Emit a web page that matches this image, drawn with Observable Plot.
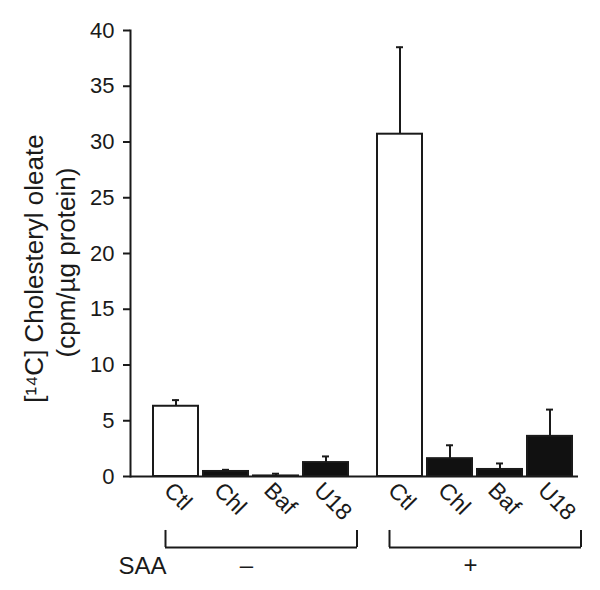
<!DOCTYPE html>
<html>
<head>
<meta charset="utf-8">
<script src="https://cdn.jsdelivr.net/npm/d3@7"></script>
<script src="https://cdn.jsdelivr.net/npm/@observablehq/plot@0.6"></script>
<style>
  body { margin: 0; background: #fff; }
  #chart svg { display: block; }
</style>
</head>
<body>
<div id="chart"></div>
<script>
// ---- data ----
const treatments = ["Ctl", "Chl", "Baf", "U18", "Ctl", "Chl", "Baf", "U18"];
const saaGroups  = ["–", "–", "–", "–", "+", "+", "+", "+"];
const means      = [6.3, 0.45, 0.05, 1.25, 30.7, 1.6, 0.63, 3.6];
const sems       = [0.55, 0.15, 0.2, 0.55, 7.8, 1.2, 0.54, 2.4];
const treatmentOrder = ["Ctl", "Chl", "Baf", "U18"];
const groupOrder = ["–", "+"];
const yTicks = [0, 5, 10, 15, 20, 25, 30, 35, 40];
const yLabelLine1 = "[¹⁴C] Cholesteryl oleate";
const yLabelLine2 = "(cpm/µg protein)";
const groupTitle = "SAA";

const data = treatments.map((t, i) => ({
  treatment: t,
  saa: saaGroups[i],
  mean: means[i],
  upper: means[i] + sems[i],
  fill: t === "Ctl" ? "#ffffff" : "#111111"
}));
const groups = groupOrder.map(g => ({saa: g}));
const firstGroup = [{saa: groupOrder[0]}];

const ink = "#1a1a1a";
const font = "'Liberation Sans', Arial, sans-serif";

const chart = Plot.plot({
  width: 600,
  height: 590,
  marginTop: 30,
  marginBottom: 114,
  marginLeft: 130,
  marginRight: 22,
  style: {fontFamily: font, fontSize: "22px", color: ink, background: "#fff", overflow: "visible"},
  fx: {domain: groupOrder, padding: 0, axis: null},
  x: {domain: treatmentOrder, paddingInner: 0.1, paddingOuter: 0.29, align: 0.8, axis: null},
  y: {domain: [0, 40], axis: null},
  color: {type: "identity"},
  marks: [
    Plot.axisY({ticks: yTicks, tickSize: 7, tickPadding: 9, fontSize: 22, label: null, stroke: ink, strokeWidth: 2, fill: ink}),
    Plot.frame({anchor: "left", facetAnchor: "left", stroke: ink, strokeWidth: 2}),
    Plot.barY(data, {x: "treatment", fx: "saa", y: "mean", fill: "fill", stroke: ink, strokeWidth: 2}),
    Plot.ruleX(data, {x: "treatment", fx: "saa", y1: "mean", y2: "upper", stroke: ink, strokeWidth: 2}),
    Plot.tickY(data, {x: "treatment", fx: "saa", y: "upper", insetLeft: 19, insetRight: 19, stroke: ink, strokeWidth: 2}),
    Plot.ruleY(groups, {fx: "saa", y: () => 0, stroke: ink, strokeWidth: 2}),
    Plot.axisX({tickRotate: 45, tickSize: 0, tickPadding: 10, dx: -8, fontSize: 23, label: null, fill: ink}),
    // group brackets
    Plot.ruleY(groups, {fx: "saa", x1: () => "Ctl", x2: () => "U18", y: () => -6.37, insetLeft: 12, insetRight: -9, stroke: ink, strokeWidth: 2}),
    Plot.ruleX(groups, {fx: "saa", x: () => "Ctl", y1: () => -4.84, y2: () => -6.37, dx: -10.5, stroke: ink, strokeWidth: 2}),
    Plot.ruleX(groups, {fx: "saa", x: () => "U18", y1: () => -4.84, y2: () => -6.37, dx: 31, stroke: ink, strokeWidth: 2}),
    Plot.text(groups, {fx: "saa", text: "saa", frameAnchor: "bottom", lineAnchor: "middle", dy: 89, dx: 4, fontSize: 24, fill: ink}),
    Plot.text(firstGroup, {fx: "saa", text: () => groupTitle, frameAnchor: "bottom-left", textAnchor: "start", lineAnchor: "bottom", dx: -12, dy: 97, fontSize: 24, fill: ink}),
    // y-axis title (two lines)
    Plot.text(firstGroup, {fx: "saa", text: () => yLabelLine1, frameAnchor: "left", rotate: -90, textAnchor: "middle", lineAnchor: "middle", dx: -96, dy: 15, fontSize: 26, fill: ink}),
    Plot.text(firstGroup, {fx: "saa", text: () => yLabelLine2, frameAnchor: "left", rotate: -90, textAnchor: "middle", lineAnchor: "middle", dx: -64, dy: 9, fontSize: 26, fill: ink})
  ]
});

document.getElementById("chart").appendChild(chart);
</script>
</body>
</html>
